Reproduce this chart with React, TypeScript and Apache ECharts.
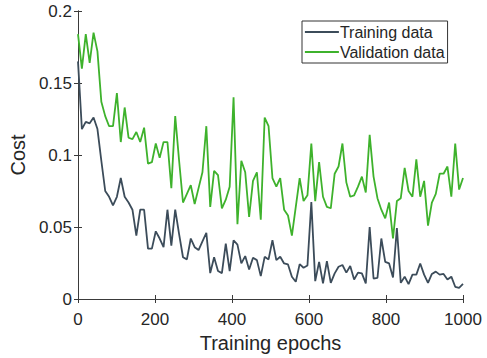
import React, { useEffect, useRef } from "react";
import * as echarts from "echarts";

// Cost per sampled epoch (100 samples spanning 0..1000 epochs)
const TRAINING: number[] = [
  0.165, 0.118, 0.123, 0.122, 0.126, 0.118, 0.096, 0.075, 0.071, 0.065,
  0.071, 0.084, 0.071, 0.067, 0.062, 0.044, 0.062, 0.062, 0.035, 0.035,
  0.047, 0.042, 0.036, 0.062, 0.037, 0.062, 0.045, 0.029, 0.0275, 0.042,
  0.036, 0.034, 0.040,
  0.046, 0.018, 0.029, 0.0194, 0.018, 0.0385, 0.0194, 0.0408, 0.0378, 0.0247,
  0.0298, 0.0205, 0.0286, 0.027, 0.0159, 0.0293, 0.0275, 0.0408, 0.027, 0.0293,
  0.0247, 0.024, 0.0155, 0.012, 0.0242, 0.0217, 0.0233, 0.0673, 0.0124, 0.0258,
  0.0108, 0.0263,
  0.0112, 0.0178, 0.0224, 0.0236, 0.0183, 0.0229, 0.0135, 0.0183, 0.0178, 0.0108,
  0.050, 0.0142, 0.0146, 0.042, 0.0258, 0.0247, 0.0149, 0.0493, 0.0112, 0.0155,
  0.0103, 0.0169, 0.0169, 0.0247, 0.0169, 0.0112, 0.0174, 0.019, 0.0169, 0.0174,
  0.0135, 0.0155, 0.0085, 0.0078, 0.0105,
];

const VALIDATION: number[] = [
  0.184, 0.160, 0.184, 0.164, 0.185, 0.172, 0.137, 0.127, 0.120, 0.120,
  0.143, 0.109, 0.133, 0.112, 0.111, 0.116, 0.109, 0.119, 0.094, 0.095,
  0.108, 0.098, 0.109, 0.109, 0.077, 0.127, 0.096, 0.067, 0.073, 0.079,
  0.066, 0.077, 0.088,
  0.120, 0.064, 0.089, 0.086, 0.063, 0.069, 0.078, 0.140, 0.052, 0.096,
  0.088, 0.057, 0.082, 0.088, 0.055, 0.126, 0.120, 0.084, 0.078, 0.084,
  0.062, 0.058, 0.044, 0.064, 0.084, 0.068, 0.072, 0.108, 0.068, 0.095,
  0.071, 0.064,
  0.063, 0.087, 0.092, 0.108, 0.081, 0.071, 0.072, 0.078, 0.085, 0.074,
  0.114, 0.085, 0.070, 0.062, 0.056, 0.067, 0.042, 0.068, 0.070, 0.091,
  0.075, 0.071, 0.097, 0.071, 0.082, 0.051, 0.067, 0.073, 0.087, 0.087,
  0.092, 0.071, 0.108, 0.076, 0.084,
];

const MAX_EPOCH = 1000;
const EPOCHS: number[] = TRAINING.map((_, i) => (i * MAX_EPOCH) / (TRAINING.length - 1));

const X_TICKS = [0, 200, 400, 600, 800, 1000];
const Y_TICKS = [0, 0.05, 0.1, 0.15, 0.2];

const SERIES_NAMES = ["Training data", "Validation data"];

const FONT = "'Liberation Sans', Arial, sans-serif";
const AXIS_COLOR = "#3a3a3a";
const TEXT_COLOR = "#262626";

function tickText(list: number[], v: number): string {
  const t = list.find((y) => Math.abs(y - v) < 1e-9);
  return String(t !== undefined ? t : v);
}

export default function App() {
  const ref = useRef<HTMLDivElement>(null);

  useEffect(() => {
    if (!ref.current) return;
    const chart = echarts.init(ref.current, undefined, { renderer: "svg" });

    const axisCommon = {
      axisLine: { show: true, lineStyle: { color: AXIS_COLOR, width: 1 } },
      axisTick: { show: true, inside: true, length: 4, lineStyle: { color: AXIS_COLOR } },
      splitLine: { show: false },
    };

    chart.setOption({
      animation: false,
      textStyle: { fontFamily: FONT },
      grid: { left: 78, right: 24, top: 11, bottom: 59, containLabel: false },
      legend: {
        data: SERIES_NAMES,
        left: 302,
        top: 21,
        orient: "vertical",
        itemWidth: 34,
        itemHeight: 14,
        itemGap: 4,
        padding: [3, 3, 3, 2],
        borderColor: "#333",
        borderWidth: 1,
        backgroundColor: "#fff",
        itemStyle: { opacity: 0 },
        lineStyle: { width: 1.8 },
        textStyle: { fontSize: 16, color: TEXT_COLOR, fontFamily: FONT, padding: [0, 0, 0, -4] },
      },
      xAxis: [
        {
          type: "value",
          min: 0,
          max: MAX_EPOCH,
          interval: X_TICKS[1] - X_TICKS[0],
          position: "bottom",
          name: "Training epochs",
          nameLocation: "middle",
          nameGap: 34,
          nameTextStyle: { fontSize: 20, color: TEXT_COLOR, fontFamily: FONT },
          axisLabel: {
            fontSize: 17,
            color: TEXT_COLOR,
            margin: 12,
            fontFamily: FONT,
            formatter: (v: number) => tickText(X_TICKS, v),
          },
          ...axisCommon,
        },
        {
          type: "value",
          min: 0,
          max: MAX_EPOCH,
          interval: X_TICKS[1] - X_TICKS[0],
          position: "top",
          axisLabel: { show: false },
          ...axisCommon,
        },
      ],
      yAxis: [
        {
          type: "value",
          min: 0,
          max: Y_TICKS[Y_TICKS.length - 1],
          interval: Y_TICKS[1] - Y_TICKS[0],
          position: "left",
          name: "Cost",
          nameLocation: "middle",
          nameGap: 41,
          nameTextStyle: { fontSize: 20, color: TEXT_COLOR, fontFamily: FONT },
          axisLabel: {
            fontSize: 17,
            color: TEXT_COLOR,
            margin: 6,
            fontFamily: FONT,
            formatter: (v: number) => tickText(Y_TICKS, v),
          },
          ...axisCommon,
        },
        {
          type: "value",
          min: 0,
          max: Y_TICKS[Y_TICKS.length - 1],
          interval: Y_TICKS[1] - Y_TICKS[0],
          position: "right",
          axisLabel: { show: false },
          ...axisCommon,
        },
      ],
      series: [
        {
          name: SERIES_NAMES[0],
          type: "line",
          data: EPOCHS.map((e, i) => [e, TRAINING[i]]),
          symbol: "none",
          lineStyle: { color: "#3c4c5a", width: 1.8 },
          itemStyle: { color: "#3c4c5a" },
        },
        {
          name: SERIES_NAMES[1],
          type: "line",
          data: EPOCHS.map((e, i) => [e, VALIDATION[i]]),
          symbol: "none",
          lineStyle: { color: "#3eb22c", width: 1.8 },
          itemStyle: { color: "#3eb22c" },
        },
      ],
    });

    return () => chart.dispose();
  }, []);

  return (
    <div
      ref={ref}
      style={{ position: "fixed", left: 0, top: 0, width: 487, height: 358, background: "#fff" }}
    />
  );
}
